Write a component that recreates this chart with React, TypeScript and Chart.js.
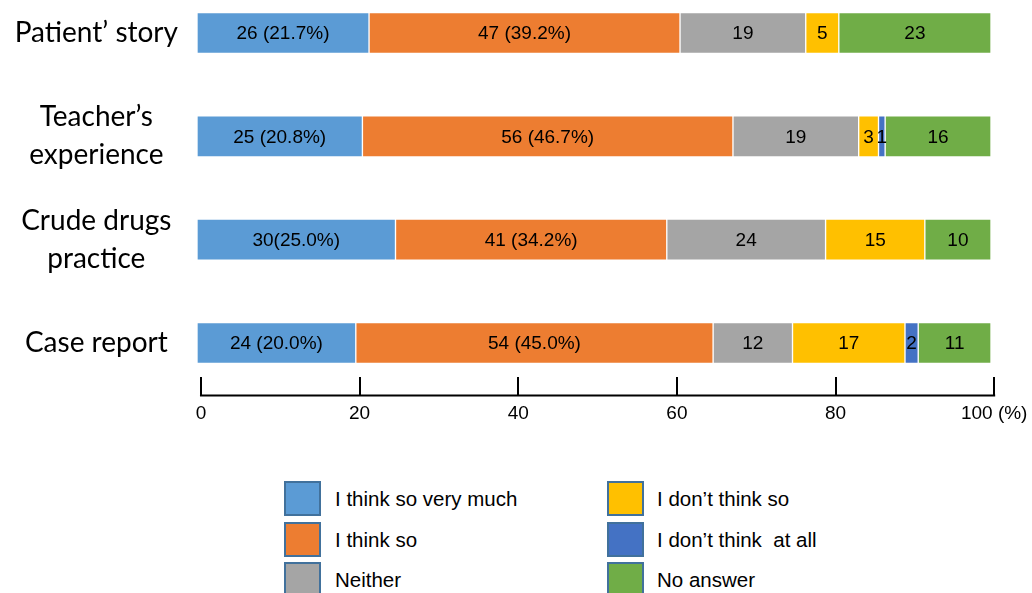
import React, { useEffect, useRef } from "react";
import { Chart, registerables } from "chart.js";

Chart.register(...registerables);

// ---- data ----
const categories: string[][] = [
  ["Patient’ story"],
  ["Teacher’s", "experience"],
  ["Crude drugs", "practice"],
  ["Case report"],
];
const seriesNames = [
  "I think so very much",
  "I think so",
  "Neither",
  "I don’t think so",
  "I don’t think  at all",
  "No answer",
];
const seriesColors = ["#5B9BD5", "#ED7D31", "#A5A5A5", "#FFC000", "#4472C4", "#70AD47"];

const veryMuch = [26, 25, 30, 24];
const thinkSo = [47, 56, 41, 54];
const neither = [19, 19, 24, 12];
const dontThink = [5, 3, 15, 17];
const notAtAll = [0, 1, 0, 2];
const noAnswer = [23, 16, 10, 11];

const veryMuchLabels = ["26 (21.7%)", "25 (20.8%)", "30(25.0%)", "24 (20.0%)"];
const thinkSoLabels = ["47 (39.2%)", "56 (46.7%)", "41 (34.2%)", "54 (45.0%)"];

const tickValues = [0, 20, 40, 60, 80, 100];

const seriesCounts = [veryMuch, thinkSo, neither, dontThink, notAtAll, noAnswer];
const seriesLabels: (string[] | null)[] = [veryMuchLabels, thinkSoLabels, null, null, null, null];

const LABEL_FONT = '"Liberation Sans", Arial, sans-serif';

export default function App() {
  const ref = useRef<HTMLCanvasElement | null>(null);

  useEffect(() => {
    const canvas = ref.current;
    if (!canvas) return;
    const totals = categories.map((_, i) => seriesCounts.reduce((s, arr) => s + arr[i], 0));

    const datasets = seriesCounts.map((arr, si) => ({
      label: seriesNames[si],
      data: arr.map((v, i) => (v / totals[i]) * 100),
      backgroundColor: seriesColors[si],
      borderColor: "rgba(255,255,255,0.55)",
      borderWidth: 1,
      borderSkipped: false as const,
      barThickness: 41,
      clip: false as const,
      xAxisID: "x",
    }));

    const valueLabels = {
      id: "valueLabels",
      afterDatasetsDraw(chart: any) {
        const ctx = chart.ctx;
        ctx.save();
        ctx.font = `19px ${LABEL_FONT}`;
        ctx.fillStyle = "#000";
        ctx.textAlign = "center";
        ctx.textBaseline = "middle";
        chart.data.datasets.forEach((ds: any, si: number) => {
          const meta = chart.getDatasetMeta(si);
          meta.data.forEach((el: any, i: number) => {
            const count = seriesCounts[si][i];
            if (!count) return;
            const { x, base, y } = el.getProps(["x", "base", "y"], true);
            const lbls = seriesLabels[si];
            const text = lbls ? lbls[i] : String(count);
            ctx.fillText(text, (x + base) / 2, y + 1);
          });
        });
        ctx.restore();
      },
    };

    const axisLine = {
      id: "axisLine",
      afterDraw(chart: any) {
        const sc = chart.scales.x2;
        const ctx = chart.ctx;
        const yLine = 395.5;
        ctx.save();
        ctx.strokeStyle = "#000";
        ctx.lineWidth = 2;
        ctx.beginPath();
        ctx.moveTo(sc.getPixelForValue(tickValues[0]) - 1, yLine);
        ctx.lineTo(sc.getPixelForValue(tickValues[tickValues.length - 1]) + 1, yLine);
        tickValues.forEach((v) => {
          const px = Math.round(sc.getPixelForValue(v));
          ctx.moveTo(px, yLine);
          ctx.lineTo(px, 377);
        });
        ctx.stroke();
        ctx.restore();
      },
    };

    const chart = new Chart(canvas, {
      type: "bar",
      data: { labels: categories, datasets },
      options: {
        indexAxis: "y",
        responsive: false,
        animation: false,
        layout: { padding: { top: 33, left: 0, right: 41, bottom: 0 } },
        plugins: { legend: { display: false }, tooltip: { enabled: false } },
        scales: {
          y: {
            type: "category",
            stacked: true,
            offset: false,
            grid: { display: false, drawTicks: false },
            border: { display: false },
            ticks: {
              color: "#000",
              crossAlign: "center",
              padding: 19,
              font: { family: "Lato, Carlito, sans-serif", size: 28, lineHeight: 1.36 },
            },
            afterFit(scale: any) {
              scale.width = 197;
              scale.paddingTop = 0;
              scale.paddingBottom = 0;
            },
          },
          x: {
            type: "linear",
            stacked: true,
            min: 0,
            max: 100,
            display: false,
          },
          x2: {
            type: "linear",
            position: "bottom",
            min: -0.5,
            max: 99.6,
            grid: { display: false, drawTicks: false },
            border: { display: false },
            afterBuildTicks(scale: any) {
              scale.ticks = tickValues.map((v) => ({ value: v }));
            },
            ticks: {
              color: "#000",
              padding: 59,
              maxRotation: 0,
              autoSkip: false,
              font: { family: LABEL_FONT, size: 19 },
              callback: (v: any) => (v === 100 ? "100 (%)" : String(v)),
            },
            afterFit(scale: any) {
              scale.height = 107;
              scale.paddingLeft = 0;
              scale.paddingRight = 0;
            },
          },
        },
      },
      plugins: [valueLabels, axisLine],
    });
    return () => chart.destroy();
  }, []);

  const legendCols = [
    { boxLeft: 284, textLeft: 335 },
    { boxLeft: 607, textLeft: 657 },
  ];
  const rowTops = [481, 522, 562];

  return (
    <div style={{ position: "absolute", left: 0, top: 0, width: 1032, height: 593, overflow: "hidden", background: "#fff" }}>
      <canvas ref={ref} width={1032} height={450} style={{ display: "block", width: 1032, height: 450 }} />
      {seriesNames.map((name, i) => {
        const col = legendCols[Math.floor(i / 3)];
        const top = rowTops[i % 3];
        return (
          <React.Fragment key={name}>
            <div
              style={{
                position: "absolute",
                left: col.boxLeft,
                top,
                width: 37,
                height: 35,
                boxSizing: "border-box",
                border: "2px solid #41719C",
                background: seriesColors[i],
              }}
            />
            <div
              style={{
                position: "absolute",
                left: col.textLeft,
                top: top + 18 - 12,
                height: 24,
                lineHeight: "24px",
                fontFamily: LABEL_FONT,
                fontSize: 20.5,
                color: "#000",
                whiteSpace: "pre",
              }}
            >
              {name}
            </div>
          </React.Fragment>
        );
      })}
    </div>
  );
}
